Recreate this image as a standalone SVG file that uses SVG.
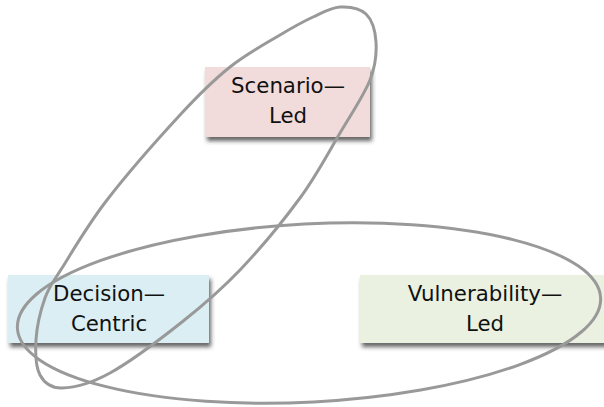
<svg xmlns="http://www.w3.org/2000/svg" width="604" height="407" viewBox="0 0 604 407">
<defs>
<filter id="sh" x="-10%" y="-10%" width="130%" height="140%">
<feDropShadow dx="2" dy="4" stdDeviation="2" flood-color="#333" flood-opacity="0.75"/>
</filter>
<style>
.box{filter:url(#sh);}
.lbl{font-family:"DejaVu Sans",Verdana,sans-serif;font-size:21.3px;fill:#111;text-anchor:middle;}
.ring{fill:none;stroke:#999;stroke-width:3;}
</style>
</defs>
<rect width="604" height="407" fill="#fff"/>
<g id="scenario">
<rect class="box" x="205" y="67" width="165" height="70" fill="#f2dcdb"/>
<text class="lbl" x="288" y="93">Scenario—</text>
<text class="lbl" x="288" y="123">Led</text>
</g>
<g id="decision">
<rect class="box" x="8" y="275" width="201" height="68" fill="#daeef3"/>
<text class="lbl" x="109" y="301">Decision—</text>
<text class="lbl" x="109" y="331">Centric</text>
</g>
<g id="vulnerability">
<rect class="box" x="360" y="275" width="250" height="68" fill="#ebf1e1"/>
<text class="lbl" x="485" y="301">Vulnerability—</text>
<text class="lbl" x="485" y="331">Led</text>
</g>
<g id="connectors">
<ellipse class="ring" cx="309" cy="313" rx="292" ry="89" transform="rotate(-3 309 313)"/>
<path class="ring" d="M340 7 C348.8 6.5 360 8.2 366 14 C372 19.8 375.3 31 376 42 C376.7 53 376 64.8 370 80 C364 95.2 351.7 113.3 340 133 C328.3 152.7 316.7 175.2 300 198 C283.3 220.8 259.7 249.3 240 270 C220.3 290.7 203.7 304.8 182 322 C160.3 339.2 130 362 110 373 C90 384 73.7 387.7 62 388 C50.3 388.3 44.3 383 40 375 C35.7 367 35.2 352.8 36 340 C36.8 327.2 40.7 310 45 298 C49.3 286 51.7 284.3 62 268 C72.3 251.7 87.3 225.5 107 200 C126.7 174.5 159.5 137.2 180 115 C200.5 92.8 213.3 80.3 230 67 C246.7 53.7 266.2 43.3 280 35 C293.8 26.7 303 21.7 313 17 C323 12.3 331.2 7.5 340 7 Z"/>
</g>
</svg>
